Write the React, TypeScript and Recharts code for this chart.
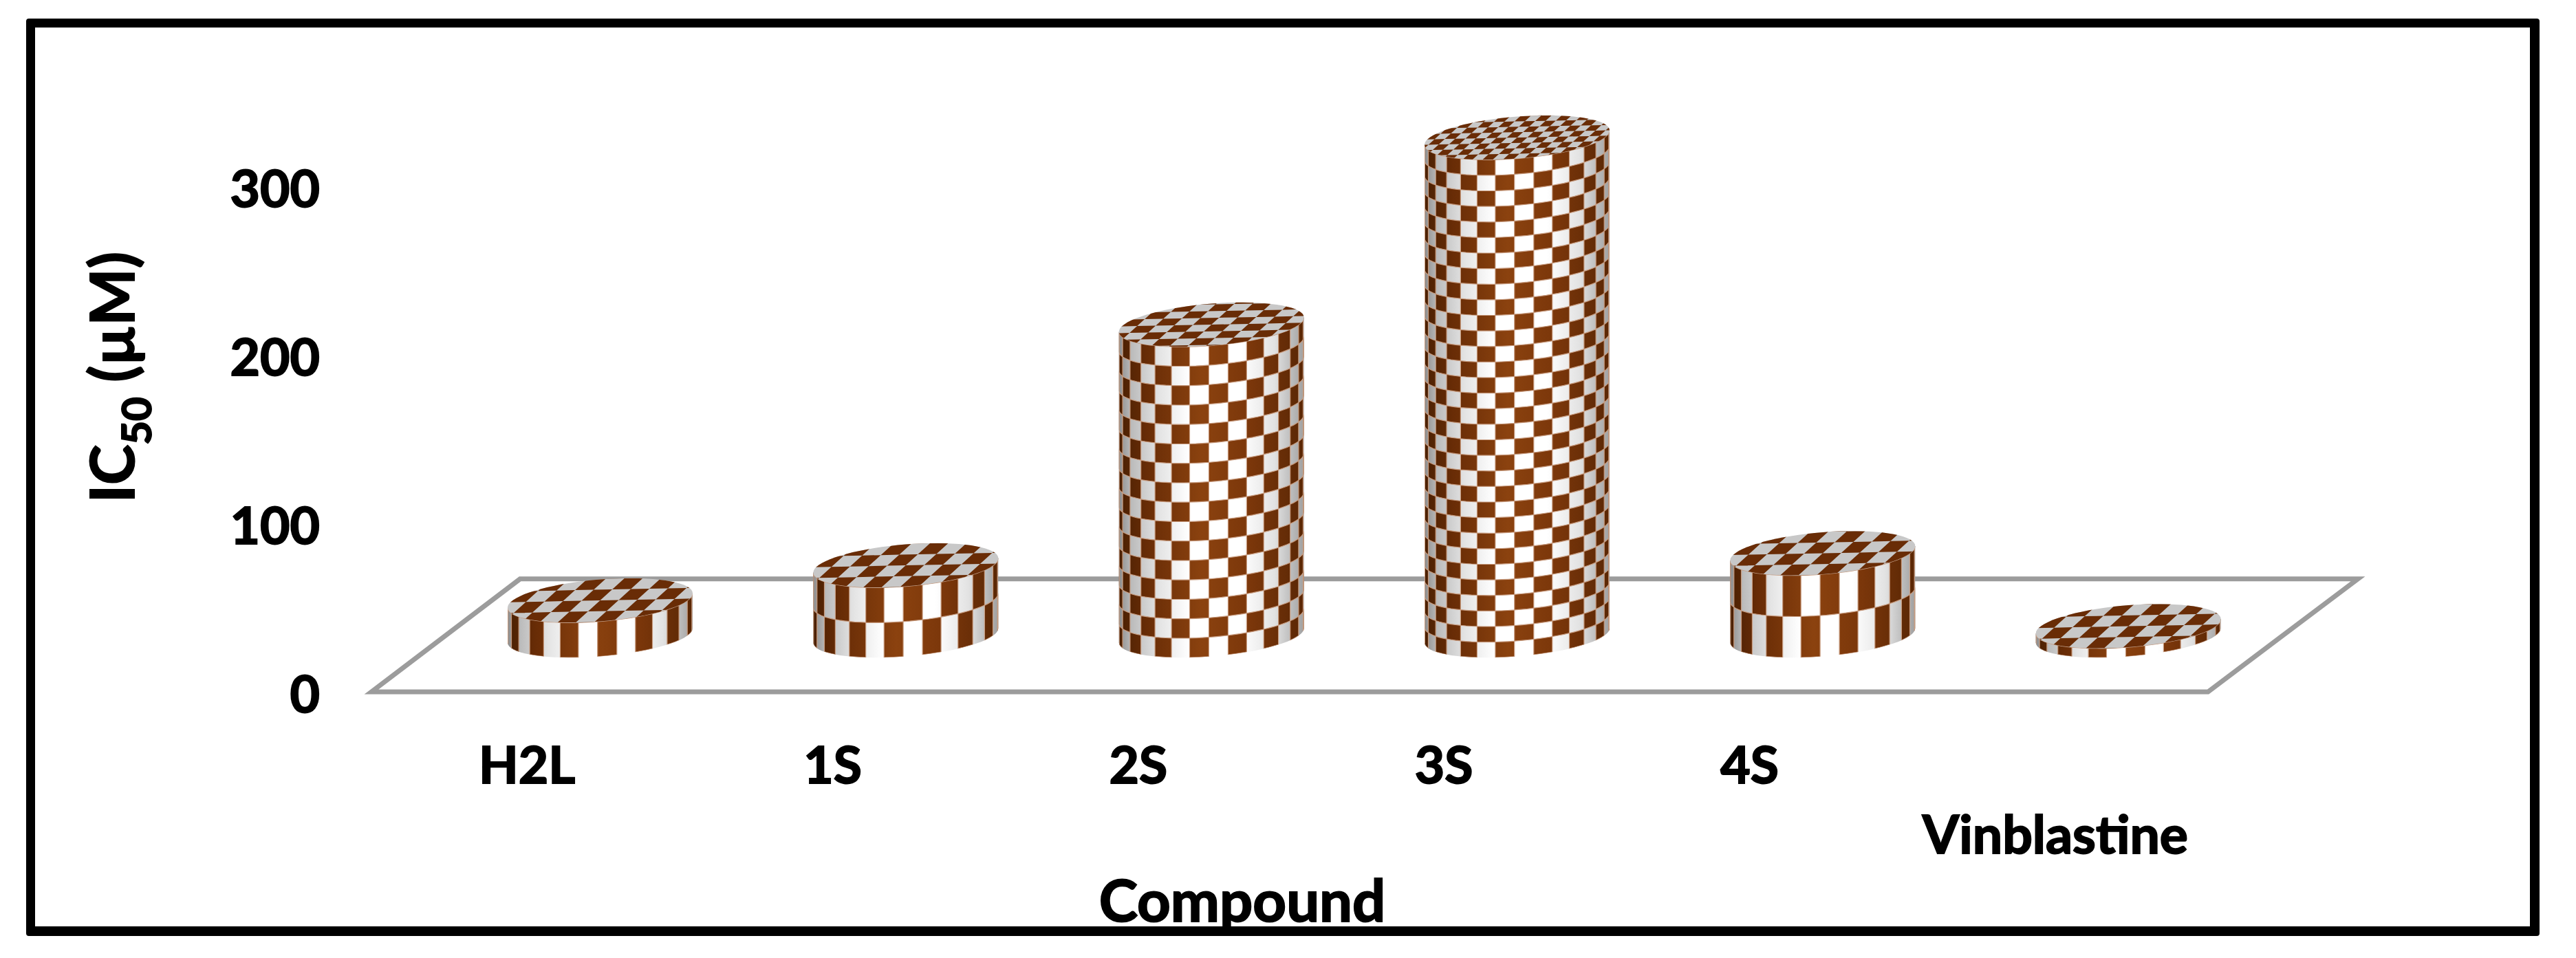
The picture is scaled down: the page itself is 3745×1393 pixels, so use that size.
import React from "react";
import { BarChart, Bar, XAxis, YAxis, ReferenceArea } from "recharts";

const categories = ["H2L", "1S", "2S", "3S", "4S", "Vinblastine"];
const ic50 = [20.8, 41.6, 184.5, 295.5, 48.8, 5.5];
const yTicks = [0, 100, 200, 300];
const yMax = 350;
const floorDepthValue = 67;

const data = categories.map((name, i) => ({ name, ic50: ic50[i] }));

const FONT = "Lato, 'Open Sans', sans-serif";
const BAR_LIFT = 82;
const RY = 30.5;
const TILT = 10.5;
const DEG = Math.PI / 180;

function pt(cx: number, cy: number, rx: number, th: number): [number, number] {
  return [cx + rx * Math.sin(th), cy + RY * Math.cos(th) - TILT * Math.sin(th)];
}
const fmt = (p: [number, number]) => `${p[0].toFixed(1)},${p[1].toFixed(1)}`;

function ellipsePath(cx: number, cy: number, rx: number) {
  const pts: string[] = [];
  for (let i = 0; i < 72; i++) pts.push(fmt(pt(cx, cy, rx, (i * 5) * DEG)));
  return "M" + pts.join("L") + "Z";
}

function sidePath(cx: number, top: number, base: number, rx: number) {
  const pts: string[] = [];
  for (let a = -90; a <= 90; a += 5) pts.push(fmt(pt(cx, base, rx, a * DEG)));
  pts.push(fmt(pt(cx, top, rx, 90 * DEG)));
  pts.push(fmt(pt(cx, top, rx, -90 * DEG)));
  return "M" + pts.join("L") + "Z";
}

function Cylinder(props: any) {
  const { x, y, width, height, index } = props;
  const cx = x + width / 2;
  const rx = width / 2;
  const top = y - BAR_LIFT;
  const base = y + height - BAR_LIFT;
  const h = base - top;
  const rows = Math.max(1, h < 150 ? Math.round(h / 50) : Math.round(h / (h > 600 ? 22.7 : 27.7)));
  const rowH = h / rows;
  const step = 12;
  const off = -1.6;
  let brown = "";
  for (let j = -1; j < rows; j++) {
    const y0 = top + j * rowH;
    const y1 = top + (j + 1) * rowH;
    for (let k = -8; k <= 8; k++) {
      if (((k + j) % 2 + 2) % 2 !== 0) continue;
      const a0 = Math.max(-90, off + k * step);
      const a1 = Math.min(90, off + (k + 1) * step);
      if (a1 <= a0) continue;
      const up: string[] = [];
      const dn: string[] = [];
      for (let s = 0; s <= 3; s++) {
        const a = (a0 + ((a1 - a0) * s) / 3) * DEG;
        up.push(fmt(pt(cx, y0, rx, a)));
        dn.unshift(fmt(pt(cx, y1, rx, a)));
      }
      brown += "M" + up.concat(dn).join("L") + "Z";
    }
  }
  const cellW = h > 600 ? 15 : 27;
  const capRowH = h > 600 ? 8 : h > 150 ? 10 : 16;
  let cap = "";
  const nCols = Math.ceil(rx / cellW) + 8;
  const nRows = Math.ceil(40 / capRowH);
  for (let r = -nRows; r <= nRows; r++) {
    for (let c = -nCols; c <= nCols; c++) {
      if (((r + c) % 2 + 2) % 2 !== 0) continue;
      const skew = 1.1;
      const px = (u: number, v: number): [number, number] => [
        cx + u * cellW + v * capRowH * -skew,
        top + v * capRowH - u * cellW * 0.02,
      ];
      cap += "M" + [px(c, r), px(c + 1, r), px(c + 1, r + 1), px(c, r + 1)].map(fmt).join("L") + "Z";
    }
  }
  return (
    <g>
      <defs>
        <linearGradient id={`w${index}`} x1="0" x2="1" y1="0" y2="0">
          <stop offset="0" stopColor="#8c8c8c" />
          <stop offset="0.07" stopColor="#bcbcbc" />
          <stop offset="0.22" stopColor="#e4e4e4" />
          <stop offset="0.38" stopColor="#ffffff" />
          <stop offset="0.66" stopColor="#ffffff" />
          <stop offset="0.84" stopColor="#e2e2e2" />
          <stop offset="1" stopColor="#a0a0a0" />
        </linearGradient>
        <linearGradient id={`b${index}`} x1="0" x2="1" y1="0" y2="0">
          <stop offset="0" stopColor="#4a2003" />
          <stop offset="0.15" stopColor="#682c06" />
          <stop offset="0.45" stopColor="#8b420f" />
          <stop offset="0.72" stopColor="#7a360a" />
          <stop offset="1" stopColor="#5a2705" />
        </linearGradient>
        <clipPath id={`side${index}`}>
          <path d={sidePath(cx, top, base, rx)} />
        </clipPath>
        <clipPath id={`cap${index}`}>
          <path d={ellipsePath(cx, top, rx)} />
        </clipPath>
      </defs>
      <path d={sidePath(cx, top, base, rx)} fill={`url(#w${index})`} />
      <g clipPath={`url(#side${index})`}>
        <path d={brown} fill={`url(#b${index})`} stroke="#c89c80" strokeWidth={1.2} />
      </g>
      <path d={ellipsePath(cx, top, rx)} fill="#c8c8c8" />
      <g clipPath={`url(#cap${index})`}>
        <path d={cap} fill="#692c06" />
      </g>
    </g>
  );
}

function Floor(props: any) {
  const { y, height } = props;
  const front = y + height;
  const back = y;
  const left = 650;
  const right = 3316;
  const pts = [
    [left - 110, front],
    [right - 106, front],
    [right + 112, back],
    [left + 106, back],
  ];
  return (
    <polygon
      points={pts.map((p) => p.join(",")).join(" ")}
      fill="#ffffff"
      stroke="#9c9c9c"
      strokeWidth={7}
      strokeLinejoin="miter"
    />
  );
}

const BOLD = { fontFamily: FONT, fontWeight: 700, fill: "#000", stroke: "#000", strokeWidth: 2 };

function YTick(props: any) {
  const { x, y, payload } = props;
  return (
    <text x={x + 3} y={y + 30} textAnchor="end" fontSize={75} {...BOLD}>
      {payload.value}
    </text>
  );
}

function XTick(props: any) {
  const { x, payload, index } = props;
  const last = index === categories.length - 1;
  return (
    <text x={x - 106} y={last ? 1241 : 1139} textAnchor="middle" fontSize={last ? 77 : 75} {...BOLD}>
      {payload.value}
    </text>
  );
}

function YTitle() {
  return (
    <text transform="translate(195,731) rotate(-90)" fontSize={88} {...BOLD}>
      IC
      <tspan dy={25} fontSize={60}>50</tspan>
      <tspan dy={-25}> (µM)</tspan>
    </text>
  );
}

function XTitle() {
  return (
    <text x={1806} y={1340} textAnchor="middle" fontSize={85} {...BOLD}>
      Compound
    </text>
  );
}

export default function App() {
  return (
    <div style={{ position: "absolute", left: 0, top: 0, width: 3745, height: 1393, background: "#fff" }}>
      <BarChart
        width={3745}
        height={1393}
        data={data}
        margin={{ top: 148.5, right: 429, left: 0, bottom: 0 }}
        barCategoryGap={0}
      >
        <XAxis
          dataKey="name"
          height={387}
          axisLine={false}
          tickLine={false}
          tick={<XTick />}
          interval={0}
          label={<XTitle />}
        />
        <YAxis
          width={650}
          domain={[0, yMax]}
          ticks={yTicks}
          axisLine={false}
          tickLine={false}
          tickSize={0}
          tickMargin={188}
          tick={<YTick />}
          label={<YTitle />}
        />
        <ReferenceArea y1={0} y2={floorDepthValue} shape={<Floor />} ifOverflow="visible" />
        <Bar dataKey="ic50" barSize={269} isAnimationActive={false} shape={<Cylinder />} />
      </BarChart>
      <div
        style={{
          position: "absolute",
          left: 38,
          top: 27,
          width: 3654,
          height: 1334,
          boxSizing: "border-box",
          border: "13px solid #000",
          borderBottomWidth: 14,
          borderRightWidth: 14,
          borderRadius: 4,
          pointerEvents: "none",
        }}
      />
    </div>
  );
}
